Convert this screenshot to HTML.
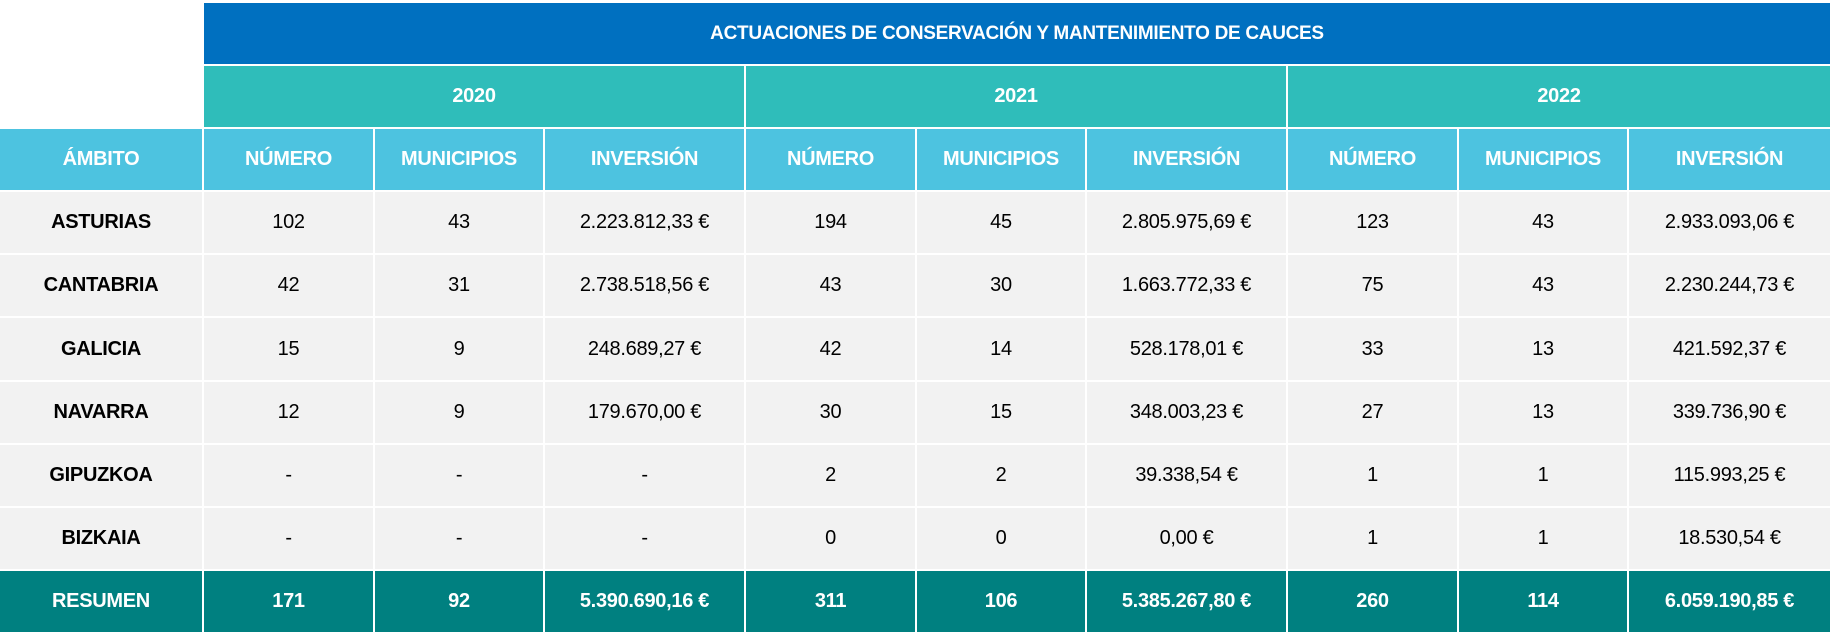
<!DOCTYPE html>
<html><head><meta charset="utf-8"><style>
html,body{margin:0;padding:0;background:#fff;width:1832px;height:635px;overflow:hidden}
#t{position:absolute;left:0;top:3px;display:grid;
grid-template-columns:204px 171px 170px 201px 171px 170px 201px 171px 170px 203px;
grid-template-rows:repeat(10,63.1px);font-family:"Liberation Sans",sans-serif}
#t div{box-sizing:border-box;border-right:2px solid #fff;border-bottom:2px solid #fff;display:flex;align-items:center;justify-content:center;font-size:20px;color:#000;white-space:nowrap;letter-spacing:-0.3px}
#t .bl{background:#fff}
#t .ti{background:#0070C0;color:#fff;font-weight:bold;font-size:19px;grid-column:2/11}
#t .yr{background:#2FBDBA;color:#fff;font-weight:bold;grid-column:span 3}
#t .hd{background:#4DC3E0;color:#fff;font-weight:bold}
#t .d{background:#F2F2F2}
#t .n{background:#F2F2F2;font-weight:bold}
#t .r{background:#008080;color:#fff;font-weight:bold}
</style></head><body>
<div id="t">
<div class="bl" style="grid-row:1/3"></div>
<div class="ti">ACTUACIONES DE CONSERVACIÓN Y MANTENIMIENTO DE CAUCES</div>
<div class="yr">2020</div>
<div class="yr">2021</div>
<div class="yr">2022</div>
<div class="hd">ÁMBITO</div>
<div class="hd">NÚMERO</div><div class="hd">MUNICIPIOS</div><div class="hd">INVERSIÓN</div>
<div class="hd">NÚMERO</div><div class="hd">MUNICIPIOS</div><div class="hd">INVERSIÓN</div>
<div class="hd">NÚMERO</div><div class="hd">MUNICIPIOS</div><div class="hd">INVERSIÓN</div>

<div class="n">ASTURIAS</div>
<div class="d">102</div><div class="d">43</div><div class="d">2.223.812,33 €</div>
<div class="d">194</div><div class="d">45</div><div class="d">2.805.975,69 €</div>
<div class="d">123</div><div class="d">43</div><div class="d">2.933.093,06 €</div>

<div class="n">CANTABRIA</div>
<div class="d">42</div><div class="d">31</div><div class="d">2.738.518,56 €</div>
<div class="d">43</div><div class="d">30</div><div class="d">1.663.772,33 €</div>
<div class="d">75</div><div class="d">43</div><div class="d">2.230.244,73 €</div>

<div class="n">GALICIA</div>
<div class="d">15</div><div class="d">9</div><div class="d">248.689,27 €</div>
<div class="d">42</div><div class="d">14</div><div class="d">528.178,01 €</div>
<div class="d">33</div><div class="d">13</div><div class="d">421.592,37 €</div>

<div class="n">NAVARRA</div>
<div class="d">12</div><div class="d">9</div><div class="d">179.670,00 €</div>
<div class="d">30</div><div class="d">15</div><div class="d">348.003,23 €</div>
<div class="d">27</div><div class="d">13</div><div class="d">339.736,90 €</div>

<div class="n">GIPUZKOA</div>
<div class="d">-</div><div class="d">-</div><div class="d">-</div>
<div class="d">2</div><div class="d">2</div><div class="d">39.338,54 €</div>
<div class="d">1</div><div class="d">1</div><div class="d">115.993,25 €</div>

<div class="n">BIZKAIA</div>
<div class="d">-</div><div class="d">-</div><div class="d">-</div>
<div class="d">0</div><div class="d">0</div><div class="d">0,00 €</div>
<div class="d">1</div><div class="d">1</div><div class="d">18.530,54 €</div>

<div class="r">RESUMEN</div>
<div class="r">171</div><div class="r">92</div><div class="r">5.390.690,16 €</div>
<div class="r">311</div><div class="r">106</div><div class="r">5.385.267,80 €</div>
<div class="r">260</div><div class="r">114</div><div class="r">6.059.190,85 €</div>
</div>
</body></html>
